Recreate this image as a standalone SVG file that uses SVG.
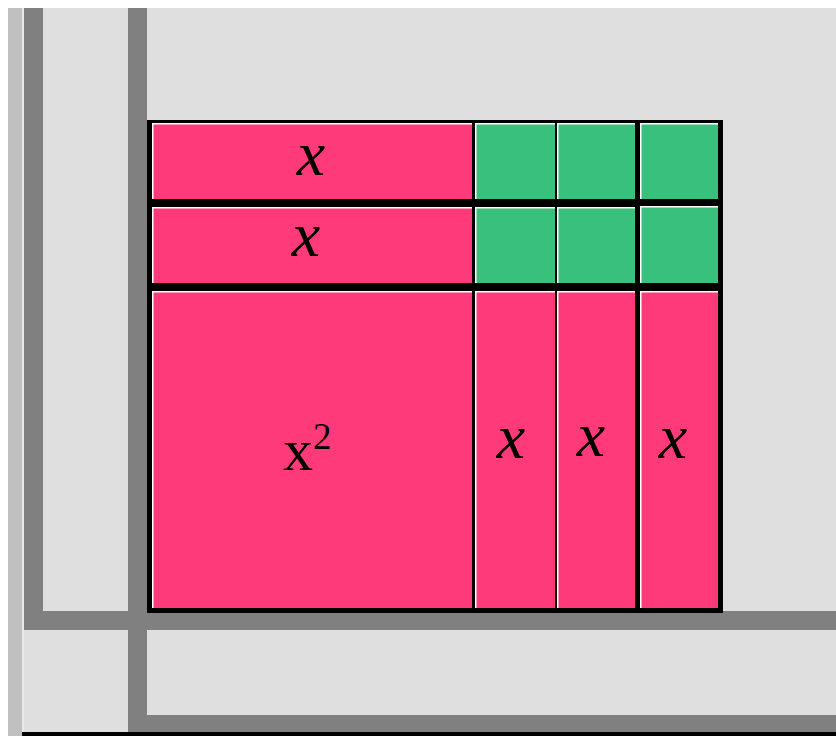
<svg xmlns="http://www.w3.org/2000/svg" width="836" height="736" viewBox="0 0 836 736">
<style>
.bg{fill:#dfdfdf}
.dk{fill:#808080}
.pink{fill:#ff3a7a}
.green{fill:#38c07c}
.hl{stroke:#ffffff;stroke-width:1.5;fill:none}
.lbl{font-family:"Liberation Serif","Times New Roman",serif;font-style:italic;font-size:64px;fill:#000;text-anchor:middle}
.sq{font-family:"Liberation Serif","Times New Roman",serif;font-size:60px;fill:#000}
</style>
<rect x="0" y="0" width="836" height="736" fill="#ffffff"/>
<g id="frame">
<rect class="bg" x="8" y="8" width="828" height="728"/>
<rect x="8" y="8" width="14" height="728" fill="#c0c0c0"/>
<rect x="22" y="8" width="2" height="728" fill="#e8e8e8"/>
<rect class="dk" x="24" y="8" width="19" height="622"/>
<rect class="dk" x="128" y="8" width="19" height="724"/>
<rect class="dk" x="24" y="611" width="812" height="19"/>
<rect class="dk" x="128" y="715" width="708" height="17"/>
<rect x="22" y="732" width="814" height="4" fill="#000"/>
</g>
<g id="grid-border">
<rect x="147" y="120" width="576" height="493" fill="#000"/>
</g>
<g id="r1-x">
<rect class="pink" x="152" y="123" width="320" height="76"/>
<path class="hl" d="M152.75,199 V123.75 H472"/>
<text class="lbl" x="311" y="175">x</text>
</g>
<g id="r1-g1"><rect class="green" x="475" y="123" width="80" height="76"/><path class="hl" d="M475.75,199 V123.75 H555"/></g>
<g id="r1-g2"><rect class="green" x="557" y="123" width="78" height="76"/><path class="hl" d="M557.75,199 V123.75 H635"/></g>
<g id="r1-g3"><rect class="green" x="640" y="123" width="78" height="76"/><path class="hl" d="M640.75,199 V123.75 H718"/></g>
<g id="r2-x">
<rect class="pink" x="152" y="207" width="320" height="76"/>
<path class="hl" d="M152.75,283 V207.75 H472"/>
<text class="lbl" x="306" y="256">x</text>
</g>
<g id="r2-g1"><rect class="green" x="475" y="207" width="80" height="76"/><path class="hl" d="M475.75,283 V207.75 H555"/></g>
<g id="r2-g2"><rect class="green" x="557" y="207" width="78" height="76"/><path class="hl" d="M557.75,283 V207.75 H635"/></g>
<g id="r2-g3"><rect class="green" x="640" y="206" width="78" height="77"/><path class="hl" d="M640.75,283 V206.75 H718"/></g>
<g id="x-squared">
<rect class="pink" x="152" y="291" width="320" height="317"/>
<path class="hl" d="M152.75,608 V291.75 H472"/>
<text class="sq" x="283" y="470">x<tspan dy="-21" font-size="37">2</tspan></text>
</g>
<g id="c1-x">
<rect class="pink" x="475" y="291" width="80" height="317"/>
<path class="hl" d="M475.75,608 V291.75 H555"/>
<text class="lbl" x="511" y="458">x</text>
</g>
<g id="c2-x">
<rect class="pink" x="557" y="291" width="78" height="317"/>
<path class="hl" d="M557.75,608 V291.75 H635"/>
<text class="lbl" x="591" y="456">x</text>
</g>
<g id="c3-x">
<rect class="pink" x="640" y="291" width="78" height="317"/>
<path class="hl" d="M640.75,608 V291.75 H718"/>
<text class="lbl" x="673" y="458">x</text>
</g>
<g id="connectors"></g>
</svg>
